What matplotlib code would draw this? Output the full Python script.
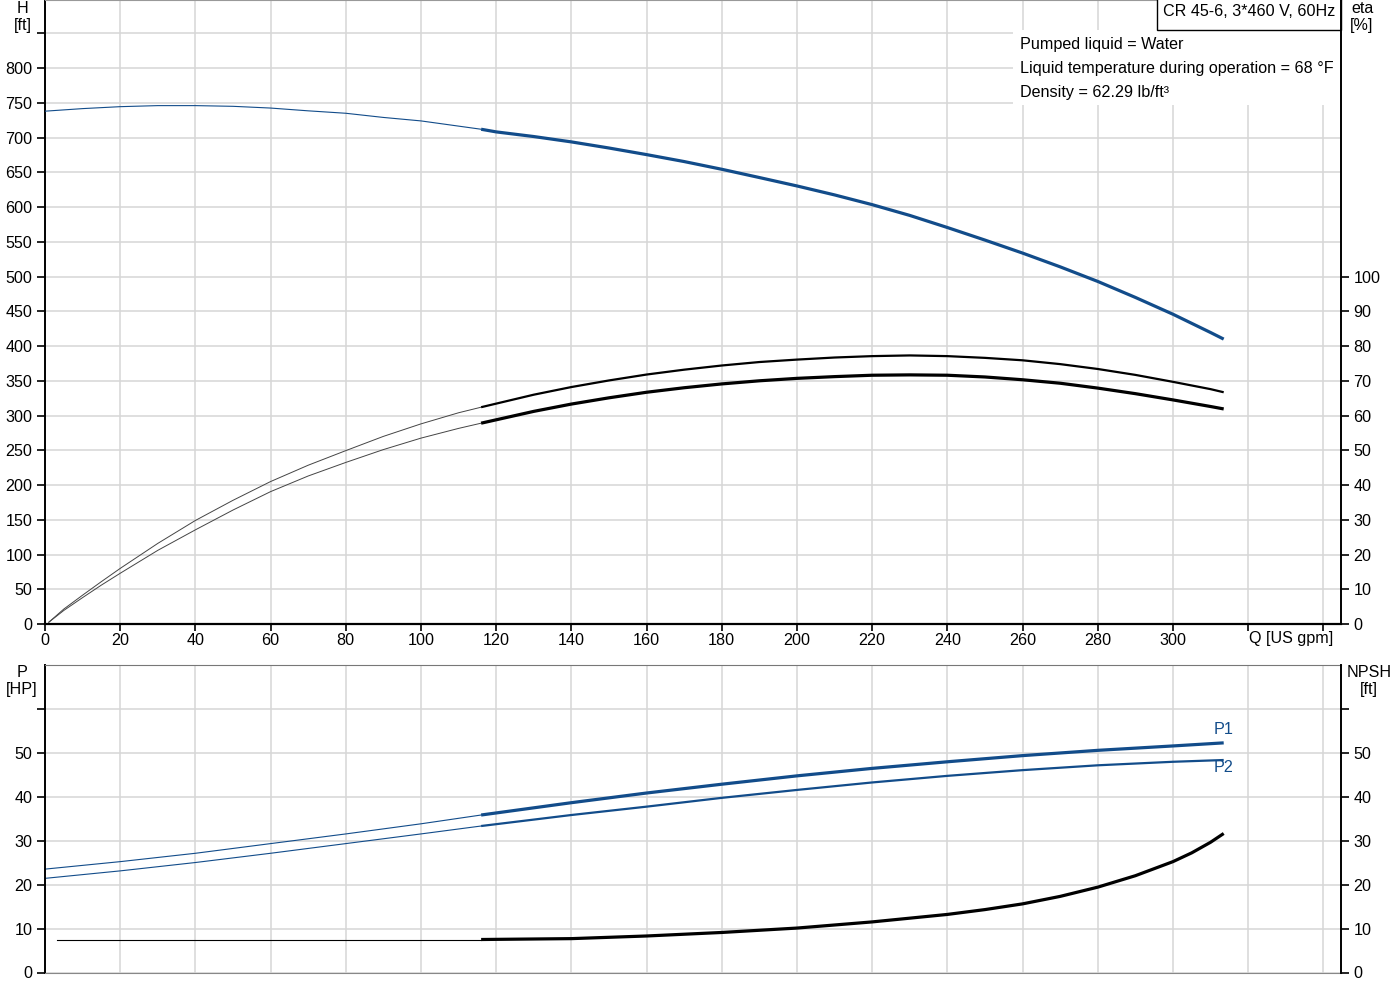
import matplotlib
matplotlib.use('Agg')
import matplotlib.pyplot as plt
from matplotlib.patches import Rectangle
import matplotlib.transforms as mtransforms

plt.rcParams['font.family'] = ['Liberation Sans', 'DejaVu Sans']

BLUE = '#124c8a'

# ---------------- data ----------------
# Head curve H [ft]
q_h_thin = [0, 10, 20, 30, 40, 50, 60, 70, 80, 90, 100, 110, 116]
h_thin = [738, 741.7, 744.5, 746, 746, 745, 742.5, 738.5, 735, 729, 724, 716.5, 712]
q_h = [116, 120, 130, 140, 150, 160, 170, 180, 190, 200, 210, 220, 230, 240,
       250, 260, 270, 280, 290, 300, 310, 313.5]
h = [712, 708.2, 701.5, 693.8, 685, 675.5, 665.5, 654.4, 642.5, 630.4, 617.5,
     603.5, 588, 570.6, 552.5, 533.8, 514, 493, 470, 445.8, 419.5, 410]

# Efficiency eta [%]
q_eta_thin = [1, 5, 10, 15, 20, 30, 40, 50, 60, 70, 80, 90, 100, 110, 116]
eta1_thin = [0.5, 4.3, 8.3, 12.2, 16.0, 23.2, 29.8, 35.6, 41.0, 45.7, 49.9, 54.0, 57.6, 60.8, 62.4]
eta2_thin = [0.5, 3.9, 7.6, 11.2, 14.6, 21.2, 27.1, 32.8, 38.1, 42.6, 46.5, 50.2, 53.5, 56.3, 57.8]
q_eta = [116, 130, 140, 150, 160, 170, 180, 190, 200, 210, 220, 230, 240, 250,
         260, 270, 280, 290, 300, 310, 313.5]
eta1 = [62.4, 66.0, 68.2, 70.1, 71.8, 73.2, 74.4, 75.4, 76.1, 76.7, 77.1, 77.3,
        77.1, 76.6, 75.9, 74.8, 73.4, 71.7, 69.7, 67.6, 66.7]
eta2 = [57.8, 61.2, 63.3, 65.1, 66.7, 68.0, 69.1, 70.0, 70.7, 71.2, 71.6, 71.7,
        71.6, 71.1, 70.3, 69.3, 67.9, 66.3, 64.5, 62.6, 61.9]

# Power P [HP]
q_p_thin = [0, 20, 40, 60, 80, 100, 116]
p1_thin = [23.5, 25.2, 27.1, 29.3, 31.5, 33.8, 35.8]
p2_thin = [21.4, 23.1, 25.0, 27.1, 29.3, 31.5, 33.3]
q_p = [116, 140, 160, 180, 200, 220, 240, 260, 280, 300, 313.5]
p1 = [35.8, 38.6, 40.8, 42.8, 44.7, 46.4, 47.9, 49.3, 50.5, 51.5, 52.2]
p2 = [33.3, 35.8, 37.7, 39.7, 41.5, 43.2, 44.7, 46.0, 47.1, 47.9, 48.3]

# NPSH [ft]
q_npsh_thin = [3.2, 116]
npsh_thin = [7.5, 7.5]
q_npsh = [116, 140, 160, 180, 200, 220, 240, 250, 260, 270, 280, 290, 300, 305, 310, 313.5]
npsh = [7.5, 7.7, 8.3, 9.1, 10.1, 11.5, 13.2, 14.3, 15.6, 17.3, 19.4, 22.0, 25.2, 27.2, 29.6, 31.6]

x_ticks = list(range(0, 341, 20))
x_labels = [str(v) for v in range(0, 301, 20)] + ['', '']
h_ticks = list(range(0, 851, 50))
h_labels = [str(v) for v in range(0, 801, 50)] + ['']
eta_ticks = list(range(0, 101, 10))
p_ticks = list(range(0, 61, 10))
p_labels = [str(v) for v in range(0, 51, 10)] + ['']

title_text = 'CR 45-6, 3*460 V, 60Hz'
info_lines = ['Pumped liquid = Water',
              'Liquid temperature during operation = 68 °F',
              'Density = 62.29 lb/ft³']

# ---------------- figure ----------------
W, H = 1400, 1000
fig = plt.figure(figsize=(14, 10), dpi=100)
ax1 = fig.add_axes([45 / W, 0.376, 1296 / W, 0.624])
ax2 = fig.add_axes([45 / W, 0.0275, 1296 / W, 0.3075])

XMAX = 344.7
FS = 11.6
GRID = '#d6d6d6'

for ax in (ax1, ax2):
    ax.set_xlim(0, XMAX)
    ax.set_xticks(x_ticks)
    ax.set_axisbelow(True)
    ax.grid(True, color=GRID, lw=1.1)
    ax.spines['left'].set_color('black')
    ax.spines['left'].set_linewidth(1.4)

# ---- top panel ----
ax1.set_ylim(0, 898)
ax1.set_yticks(h_ticks)
ax1.set_yticklabels(h_labels, fontsize=FS)
ax1.set_xticklabels(x_labels, fontsize=FS)
ax1.tick_params(axis='y', direction='out', length=6, width=1.2, pad=3, colors='black')
ax1.tick_params(axis='x', direction='out', length=5, width=1.2, pad=1.5, colors='black')
ax1.spines['bottom'].set_color('black')
ax1.spines['bottom'].set_linewidth(1.6)
ax1.spines['top'].set_color('#999999')
ax1.spines['right'].set_visible(False)

ax1.plot(q_h_thin, h_thin, color=BLUE, lw=0.8, zorder=3)
ax1.plot(q_h, h, color=BLUE, lw=2.3, zorder=3, solid_capstyle='butt')

ax1r = ax1.twinx()
ax1r.set_ylim(0, 898 / 5)
ax1r.set_yticks(eta_ticks)
ax1r.set_yticklabels([str(v) for v in eta_ticks], fontsize=FS)
ax1r.tick_params(axis='y', direction='out', length=6, width=1.2, pad=3, colors='black')
for s in ('left', 'top', 'bottom'):
    ax1r.spines[s].set_visible(False)
ax1r.spines['right'].set_color('black')
ax1r.spines['right'].set_linewidth(1.4)

ax1r.plot(q_eta_thin, eta1_thin, color='#444444', lw=0.7)
ax1r.plot(q_eta_thin, eta2_thin, color='#444444', lw=0.7)
ax1r.plot(q_eta, eta1, color='black', lw=1.6, solid_capstyle='butt')
ax1r.plot(q_eta, eta2, color='black', lw=2.3, solid_capstyle='butt')

# info box (white background hiding grid)
ax1.add_patch(Rectangle(((1013 - 45) / 1296, (624 - 105) / 624), 1 - (1013 - 45) / 1296,
                        75 / 624, transform=ax1.transAxes, facecolor='white',
                        edgecolor='none', zorder=1))
for i, line in enumerate(info_lines):
    ax1.text((1020 - 45) / 1296, (624 - (44 + 24 * i)) / 624, line, transform=ax1.transAxes,
             fontsize=FS, va='center', ha='left', zorder=4)

# title box
ax1.add_patch(Rectangle(((1157 - 45) / 1296, (624 - 30) / 624), 1 - (1157 - 45) / 1296,
                        30 / 624 + 0.01, transform=ax1.transAxes, facecolor='white',
                        edgecolor='black', lw=1.0, zorder=4, clip_on=False))
ax1.text((1249 - 45) / 1296, (624 - 12) / 624, title_text, transform=ax1.transAxes,
         fontsize=FS, va='center', ha='center', zorder=5)

# axis labels
trans1 = mtransforms.blended_transform_factory(ax1.transData, ax1.transAxes)
ax1.text(331.5, -15 / 624, 'Q [US gpm]', transform=trans1, fontsize=FS,
         ha='center', va='center')
fig.text(23 / W, 1 - 17 / H, 'H\n[ft]', fontsize=FS, ha='center', va='center', linespacing=1.1)
fig.text(1362 / W, 1 - 17 / H, 'eta\n[%]', fontsize=FS, ha='center', va='center', linespacing=1.1)

# ---- bottom panel ----
ax2.set_ylim(0, 69.9)
ax2.set_yticks(p_ticks)
ax2.set_yticklabels(p_labels, fontsize=FS)
ax2.tick_params(axis='y', direction='out', length=6, width=1.2, pad=3, colors='black')
ax2.tick_params(axis='x', length=0, labelbottom=False)
ax2.spines['top'].set_color('#777777')
ax2.spines['bottom'].set_color('#888888')
ax2.spines['right'].set_visible(False)

ax2.plot(q_p_thin, p1_thin, color=BLUE, lw=0.8)
ax2.plot(q_p_thin, p2_thin, color=BLUE, lw=0.8)
ax2.plot(q_p, p1, color=BLUE, lw=2.3, solid_capstyle='butt')
ax2.plot(q_p, p2, color=BLUE, lw=1.6, solid_capstyle='butt')
ax2.text(q_p[-1], 55.3, 'P1', color=BLUE, fontsize=FS, ha='center', va='center')
ax2.text(q_p[-1], 46.5, 'P2', color=BLUE, fontsize=FS, ha='center', va='center')

ax2r = ax2.twinx()
ax2r.set_ylim(0, 69.9)
ax2r.set_yticks(p_ticks)
ax2r.set_yticklabels(p_labels, fontsize=FS)
ax2r.tick_params(axis='y', direction='out', length=6, width=1.2, pad=3, colors='black')
for s in ('left', 'top', 'bottom'):
    ax2r.spines[s].set_visible(False)
ax2r.spines['right'].set_color('black')
ax2r.spines['right'].set_linewidth(1.4)

ax2r.plot(q_npsh_thin, npsh_thin, color='black', lw=0.8)
ax2r.plot(q_npsh, npsh, color='black', lw=2.3, solid_capstyle='butt')

fig.text(22 / W, 1 - 681 / H, 'P\n[HP]', fontsize=FS, ha='center', va='center', linespacing=1.1)
fig.text(1369 / W, 1 - 681 / H, 'NPSH\n[ft]', fontsize=FS, ha='center', va='center', linespacing=1.1)

fig.savefig('out.png', dpi=100, facecolor='white')
